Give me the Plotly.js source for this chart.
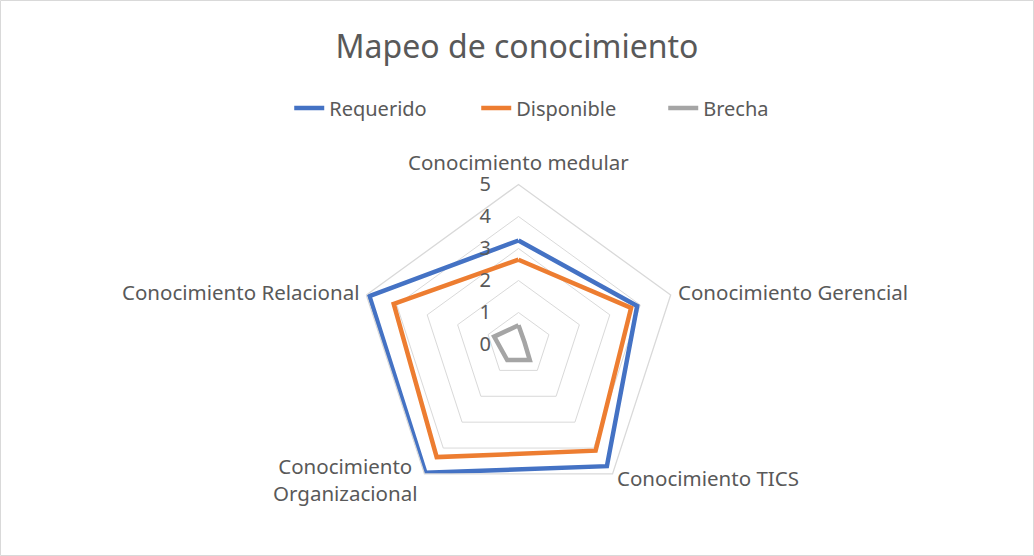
<!DOCTYPE html>
<html>
<head>
<meta charset="utf-8">
<script src="https://cdn.plot.ly/plotly-3.0.1.min.js"></script>
<style>
  html, body { margin: 0; padding: 0; background: #fff; }
  #chart { width: 1034px; height: 556px; }
</style>
</head>
<body>
<div id="chart"></div>
<script>
// categories around the radar, clockwise from the top
const categorias = [
    "Conocimiento medular",
    "Conocimiento Gerencial",
    "Conocimiento TICS",
    "Conocimiento<br>Organizacional",
    "Conocimiento Relacional"
];

// values (scale 0-5)
const requerido  = [3.25, 3.9, 4.7, 4.95, 4.9];
const disponible = [2.65, 3.7, 4.1, 4.35, 4.1];
const brecha     = [0.6, 0.2, 0.6, 0.6, 0.8];

const nombres = ["Requerido", "Disponible", "Brecha"];
const colores = ["#4472C4", "#ED7D31", "#A5A5A5"];
const series  = [requerido, disponible, brecha];

// close the polygon by repeating the first point
function cerrar(arr) { return arr.concat([arr[0]]); }

let traces = series.map((vals, i) => ({
    type: "scatterpolar",
    mode: "lines",
    r: cerrar(vals),
    theta: cerrar(categorias),
    name: nombres[i],
    line: {color: colores[i], width: 4.5},
    hoverinfo: "skip"
}));

const W = 1034, H = 556;
const cx = 518.5, cy = 344.5, R = 160;

// category label placement (px), Excel puts them by hand-ish
const etiquetaPos = [
    {x: 518, y: 162, xa: "center", al: "center"},
    {x: 676, y: 292, xa: "left",   al: "left"},
    {x: 615, y: 478, xa: "left",   al: "left"},
    {x: 419, y: 479, xa: "right",  al: "center"},
    {x: 361, y: 292, xa: "right",  al: "right"}
];

let anotaciones = categorias.map((c, i) => ({
    text: c,
    xref: "paper", yref: "paper",
    x: etiquetaPos[i].x / W,
    y: 1 - etiquetaPos[i].y / H,
    xanchor: etiquetaPos[i].xa,
    yanchor: "middle",
    align: etiquetaPos[i].al,
    showarrow: false,
    font: {size: 20.5, color: "#595959"}
}));

let layout = {
    width: W,
    height: H,
    margin: {l: 0, r: 0, t: 0, b: 0},
    paper_bgcolor: "#fff",
    font: {family: "Noto Sans, sans-serif", color: "#595959", size: 20},
    title: {
        text: "Mapeo de conocimiento",
        font: {size: 32, color: "#595959"},
        x: 0.5, xanchor: "center",
        y: 1 - 47 / H, yanchor: "middle"
    },
    showlegend: true,
    legend: {
        orientation: "h",
        x: 0.551, xanchor: "center",
        y: 1 - 108 / H, yanchor: "middle",
        font: {size: 20, color: "#595959"},
        entrywidth: 142
    },
    polar: {
        domain: {
            x: [(cx - R) / W, (cx + R) / W],
            y: [1 - (cy + R) / H, 1 - (cy - R) / H]
        },
        gridshape: "linear",
        bgcolor: "rgba(0,0,0,0)",
        radialaxis: {
            range: [0, 5],
            dtick: 1,
            angle: 90,
            tickangle: 90,
            side: "counterclockwise",
            showline: false,
            ticks: "outside",
            ticklen: 20,
            tickcolor: "rgba(0,0,0,0)",
            gridcolor: "#d9d9d9",
            gridwidth: 1.3,
            tickfont: {size: 20, color: "#595959"}
        },
        angularaxis: {
            direction: "clockwise",
            rotation: 90,
            showgrid: false,
            showline: true,
            showticklabels: false,
            linecolor: "#d9d9d9",
            linewidth: 1.3,
            ticks: ""
        }
    },
    annotations: anotaciones,
    shapes: [{
        type: "rect", xref: "paper", yref: "paper",
        x0: 0.5 / W, x1: 1 - 0.5 / W, y0: 0.5 / H, y1: 1 - 0.5 / H,
        line: {color: "#d9d9d9", width: 1}
    }]
};

Plotly.newPlot("chart", traces, layout, {displayModeBar: false});
</script>
</body>
</html>
